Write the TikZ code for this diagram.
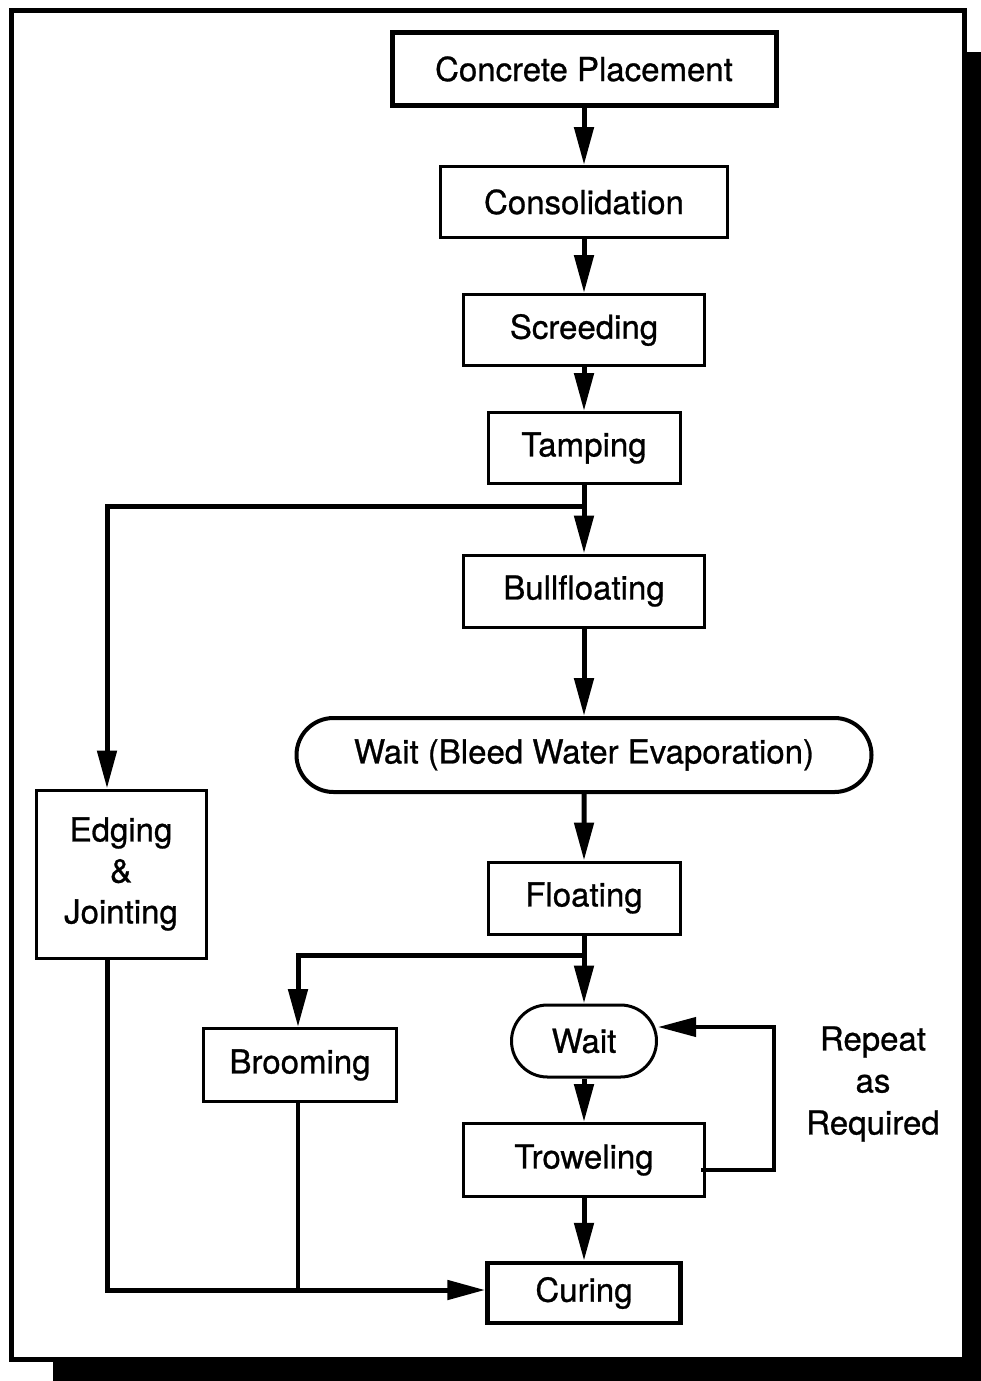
\documentclass[tikz,border=0pt]{standalone}
\usepackage{fontspec}
\setmainfont{TeX Gyre Heros}[FakeBold=0.8]
\usetikzlibrary{positioning, shapes.misc, arrows.meta}
\tikzstyle{block} = [draw, rectangle, line width=3pt, inner sep=0pt,
    font=\fontsize{33}{41}\selectfont, align=center]
\tikzstyle{waitbox} = [draw, rounded rectangle, line width=4pt, inner sep=0pt,
    font=\fontsize{33}{41}\selectfont]
\tikzstyle{arrow} = [line width=5pt, -{Triangle[length=38pt,width=19pt]}]
\tikzstyle{link} = [line width=4pt]

\begin{document}
\begin{tikzpicture}[x=1pt, y=-1pt]
    \useasboundingbox (0,0) rectangle (981,1381);
    % frame with shadow
    \fill (966,52) rectangle (981,1381);
    \fill (53,1361) rectangle (981,1381);
    \draw [line width=5pt] (11,11) rectangle (964,1359);
    % main column
    \node [block, line width=5pt, minimum width=384pt, minimum height=72pt] (place) at (584,69) {Concrete Placement};
    \node [block, minimum width=287pt, minimum height=71pt] (consol) at (584,202) {Consolidation};
    \node [block, minimum width=241pt, minimum height=71pt] (screed) at (584,330) {Screeding};
    \node [block, minimum width=192pt, minimum height=71pt] (tamp) at (584,448) {Tamping};
    \node [block, minimum width=241pt, minimum height=72pt] (bull) at (584,591) {Bullfloating};
    \node [waitbox, minimum width=575pt, minimum height=74pt] (bleed) at (584,755) {Wait (Bleed Water Evaporation)};
    \node [block, minimum width=192pt, minimum height=72pt] (float) at (584,898) {Floating};
    \node [waitbox, line width=3pt, minimum width=145pt, minimum height=72pt] (wait) at (584,1041) {Wait};
    \node [block, minimum width=241pt, minimum height=73pt] (trowel) at (584,1160) {Troweling};
    \node [block, line width=4.5pt, minimum width=193pt, minimum height=60pt] (cure) at (584,1293) {Curing};
    % side branches
    \node [block, minimum width=170pt, minimum height=168pt] (edge) at (121,874) {Edging\\\&\\Jointing};
    \node [block, minimum width=193pt, minimum height=73pt] (broom) at (300,1065) {Brooming};
    \node [font=\fontsize{33}{42}\selectfont, align=center] (repeat) at (873,1084) {Repeat\\as\\Required};
    \coordinate (split1) at (584,506);
    \coordinate (split2) at (584,955);

    \draw [arrow] (place) -- (consol);
    \draw [arrow] (consol) -- (screed);
    \draw [arrow] (screed) -- (tamp);
    \draw [arrow] (tamp) -- (bull);
    \draw [arrow] (bull) -- (bleed);
    \draw [arrow] (bleed) -- (float);
    \draw [arrow] (float) -- (wait);
    \draw [arrow] (wait) -- (trowel);
    \draw [arrow] (trowel) -- (cure);
    \draw [arrow] (split1) -| ([xshift=-14pt]edge.north);
    \draw [arrow] (split2) -| ([xshift=-2pt]broom.north);
    \draw [arrow, line width=4pt] ([xshift=-5pt,yshift=-10pt]trowel.east) -- ++(73,0) |- ([yshift=14pt]wait.east);
    \draw [arrow] ([xshift=-14pt]edge.south) |- ([yshift=3pt]cure.west);
    \draw [link] ([xshift=-2pt]broom.south) -- ([xshift=-2pt,yshift=3pt]broom.south |- cure.west);
\end{tikzpicture}
\end{document}
